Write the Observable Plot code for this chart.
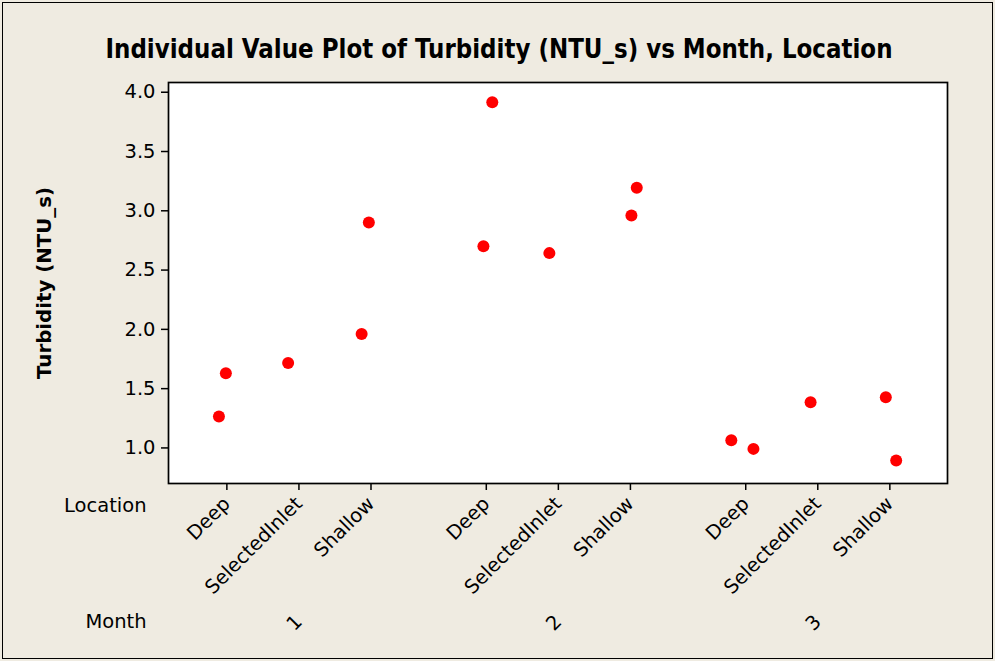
<!DOCTYPE html>
<html>
<head>
<meta charset="utf-8">
<script src="https://cdn.jsdelivr.net/npm/d3@7"></script>
<script src="https://cdn.jsdelivr.net/npm/@observablehq/plot@0.6"></script>
<style>
  html, body { margin: 0; padding: 0; background: #efebe1; }
  #chart svg { display: block; outline: 1.5px solid #000; outline-offset: -3.5px; }
</style>
</head>
<body>
<div id="chart"></div>
<script>
// ---- data ----
const monthCats = [1, 2, 3];
const locationCats = ["Deep", "SelectedInlet", "Shallow"];
const months = [1, 1, 1, 1, 1, 2, 2, 2, 2, 2, 3, 3, 3, 3, 3];
const locations = ["Deep", "Deep", "SelectedInlet", "Shallow", "Shallow",
                   "Deep", "Deep", "SelectedInlet", "Shallow", "Shallow",
                   "Deep", "Deep", "SelectedInlet", "Shallow", "Shallow"];
const turbidity = [1.265, 1.63, 1.716, 1.96, 2.902,
                   3.916, 2.70, 2.643, 3.194, 2.961,
                   1.065, 0.992, 1.385, 1.427, 0.894];
// horizontal jitter of each point (category units) as seen in the picture
const jitter = [-0.11, -0.014, -0.15, -0.13, -0.03,
                0.083, -0.04, -0.125, 0.088, 0.014,
                -0.2, 0.107, -0.1, -0.056, 0.088];
const yTicks = [1.0, 1.5, 2.0, 2.5, 3.0, 3.5, 4.0];
const titleText = "Individual Value Plot of Turbidity (NTU_s) vs Month, Location";
const yLabel = "Turbidity (NTU_s)";

// ---- layout helpers ----
const groupStep = locationCats.length + 0.6;
const pos = (m, loc) => monthCats.indexOf(m) * groupStep + locationCats.indexOf(loc);
const data = months.map((m, i) => ({
  month: m, location: locations[i], value: turbidity[i],
  x: pos(m, locations[i]) + jitter[i]
}));
const locTicks = [];
const locLabel = new Map();
monthCats.forEach(m => locationCats.forEach(l => { const p = pos(m, l); locTicks.push(p); locLabel.set(p, l); }));
const monthTicks = monthCats.map(m => pos(m, locationCats[1]));
const monthLabel = new Map(monthCats.map(m => [pos(m, locationCats[1]), String(m)]));

const chart = Plot.plot({
  width: 995,
  height: 661,
  marginTop: 82,
  marginLeft: 168,
  marginRight: 48,
  marginBottom: 178,
  style: { background: "#efebe1", fontFamily: "DejaVu Sans", fontSize: "19px", color: "#000", overflow: "visible" },
  x: { type: "linear", domain: [-0.81, 10.0] },
  y: { domain: [0.70, 4.082] },
  marks: [
    Plot.frame({ fill: "white" }),
    Plot.axisY({ ticks: yTicks, tickFormat: d3.format(".1f"), tickSize: 7, tickPadding: 6, strokeWidth: 1.5, label: null, fontSize: 19.5 }),
    Plot.axisX(locTicks, { tickFormat: d => locLabel.get(d), tickRotate: -45, tickSize: 7, tickPadding: 10, strokeWidth: 1.5, label: null, fontSize: 19.5 }),
    Plot.axisX(monthTicks, { tickFormat: d => monthLabel.get(d), tickRotate: -45, tickSize: 0, tickPadding: 135, label: null, fontSize: 19.5 }),
    Plot.dot(data, { x: "x", y: "value", r: 6, fill: "#ff0000", stroke: "none" }),
    Plot.frame({ stroke: "#000", strokeWidth: 1.7 }),
    Plot.text([titleText], { frameAnchor: "top", lineAnchor: "middle", textAnchor: "middle", dx: -59, dy: -33.3, fontWeight: "bold", fontSize: 26, fill: "#000" }),
    Plot.text([yLabel], { frameAnchor: "left", lineAnchor: "middle", textAnchor: "middle", dx: -123.5, rotate: -90, fontWeight: "bold", fontSize: 19, fill: "#000" }),
    Plot.text(["Location"], { frameAnchor: "bottom-left", lineAnchor: "middle", textAnchor: "end", dx: -22, dy: 22, fontSize: 19.5, fill: "#000" }),
    Plot.text(["Month"], { frameAnchor: "bottom-left", lineAnchor: "middle", textAnchor: "end", dx: -22, dy: 138, fontSize: 19.5, fill: "#000" })
  ]
});

d3.select(chart).selectAll("text")
  .filter(function () { return this.textContent === titleText; })
  .attr("textLength", 787).attr("lengthAdjust", "spacingAndGlyphs");
d3.select(chart).selectAll("text")
  .filter(function () { return this.textContent === yLabel; })
  .attr("textLength", 192).attr("lengthAdjust", "spacingAndGlyphs");

document.getElementById("chart").appendChild(chart);
</script>
</body>
</html>
